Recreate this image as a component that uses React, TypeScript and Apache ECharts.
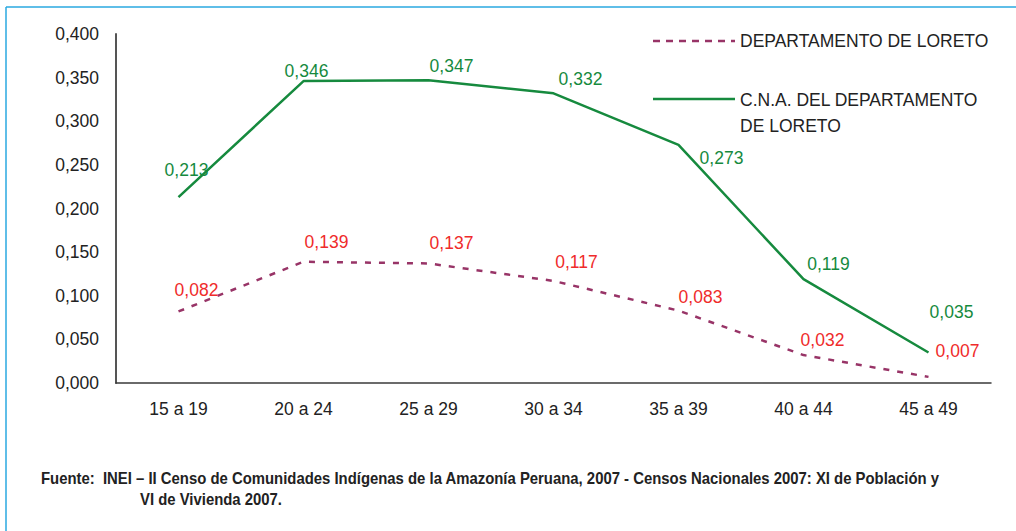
import React, { useEffect, useRef } from "react";
import * as echarts from "echarts";

const categories = ["15 a 19", "20 a 24", "25 a 29", "30 a 34", "35 a 39", "40 a 44", "45 a 49"];
const loretoValues = [0.082, 0.139, 0.137, 0.117, 0.083, 0.032, 0.007];
const cnaValues = [0.213, 0.346, 0.347, 0.332, 0.273, 0.119, 0.035];
const loretoName = "DEPARTAMENTO DE LORETO";
const cnaNameLines = ["C.N.A. DEL DEPARTAMENTO", "DE LORETO"];
const sourceLines = [
  "Fuente:  INEI – II Censo de Comunidades Indígenas de la Amazonía Peruana, 2007 - Censos Nacionales 2007: XI de Población y",
  "VI de Vivienda 2007.",
];

// label placement offsets (style only)
const cnaLabelOffsets = [[8, -27], [3, -10], [23, -14], [27, -14], [43, 13], [25, -15], [23, -40]];
const loretoLabelOffsets = [[18, -21], [23, -20], [23, -20], [23, -19], [22, -14], [19, -15], [29, -26]];

const GREEN = "#168a3e";
const PURPLE = "#983467";
const RED = "#ef2b2b";
const FONT = "Liberation Sans, Arial, sans-serif";
const FOOT_FONT = `bold 16px ${FONT}`;
const fmt = (v: number) => v.toFixed(3).replace(".", ",");

function measure(text: string, font: string) {
  const c = document.createElement("canvas").getContext("2d");
  if (!c) return 0;
  c.font = font;
  return c.measureText(text).width;
}

export default function App() {
  const ref = useRef<HTMLDivElement>(null);
  useEffect(() => {
    if (!ref.current) return;
    const chart = echarts.init(ref.current, null, { renderer: "svg" });
    const w = measure(sourceLines[0], FOOT_FONT);
    const footScale = w > 0 ? 900 / w : 0.9;
    const mkData = (vals: number[], offs: number[][], color: string) =>
      vals.map((v, i) => ({
        value: v,
        label: {
          show: true,
          position: "inside",
          offset: offs[i],
          color,
          fontSize: 17.5,
          fontFamily: FONT,
          formatter: (p: any) => fmt(p.value),
        },
      }));
    chart.setOption({
      animation: false,
      backgroundColor: "#ffffff",
      grid: { left: 116, right: 25, top: 34, bottom: 148, containLabel: false },
      xAxis: {
        type: "category",
        data: categories,
        boundaryGap: true,
        axisLine: { show: true, lineStyle: { color: "#3a3a3a", width: 1.5 } },
        axisTick: { show: false },
        axisLabel: { color: "#222", fontSize: 17.5, fontFamily: FONT, margin: 17 },
        splitLine: { show: false },
      },
      yAxis: {
        type: "value",
        min: 0,
        max: 0.4,
        interval: 0.05,
        axisLine: { show: true, lineStyle: { color: "#555", width: 2 } },
        axisTick: { show: false },
        splitLine: { show: false },
        axisLabel: { color: "#222", fontSize: 17.5, fontFamily: FONT, margin: 17, formatter: (v: number) => fmt(v) },
      },
      series: [
        {
          name: loretoName,
          type: "line",
          data: mkData(loretoValues, loretoLabelOffsets, RED),
          symbol: "circle",
          symbolSize: 0,
          itemStyle: { color: PURPLE },
          lineStyle: { color: PURPLE, width: 2.5, type: [6, 8] },
          z: 2,
        },
        {
          name: cnaNameLines.join(" "),
          type: "line",
          data: mkData(cnaValues, cnaLabelOffsets, GREEN),
          symbol: "circle",
          symbolSize: 0,
          itemStyle: { color: GREEN },
          lineStyle: { color: GREEN, width: 2.5 },
          z: 3,
        },
      ],
      graphic: [
        { type: "line", shape: { x1: 6, y1: 7, x2: 1016, y2: 7 }, style: { stroke: "#2aa8e0", lineWidth: 1.5 } },
        { type: "line", shape: { x1: 6, y1: 7, x2: 6, y2: 531 }, style: { stroke: "#2aa8e0", lineWidth: 1.5 } },
        { type: "line", shape: { x1: 653, y1: 41, x2: 735, y2: 41 }, style: { stroke: PURPLE, lineWidth: 2.5, lineDash: [7, 6] } },
        { type: "text", x: 740, y: 41, style: { text: loretoName, fill: "#222", font: `17.5px ${FONT}`, textVerticalAlign: "middle" } },
        { type: "line", shape: { x1: 653, y1: 99, x2: 735, y2: 99 }, style: { stroke: GREEN, lineWidth: 2.5 } },
        { type: "text", x: 740, y: 100, style: { text: cnaNameLines[0], fill: "#222", font: `17.5px ${FONT}`, textVerticalAlign: "middle" } },
        { type: "text", x: 740, y: 126, style: { text: cnaNameLines[1], fill: "#222", font: `17.5px ${FONT}`, textVerticalAlign: "middle" } },
        { type: "text", x: 41, y: 478, scaleX: footScale, style: { text: sourceLines[0], fill: "#222", font: FOOT_FONT, textVerticalAlign: "middle" } },
        { type: "text", x: 140, y: 499, scaleX: footScale, style: { text: sourceLines[1], fill: "#222", font: FOOT_FONT, textVerticalAlign: "middle" } },
      ],
    });
    return () => chart.dispose();
  }, []);
  return <div ref={ref} style={{ position: "absolute", left: 0, top: 0, width: 1016, height: 531 }} />;
}
